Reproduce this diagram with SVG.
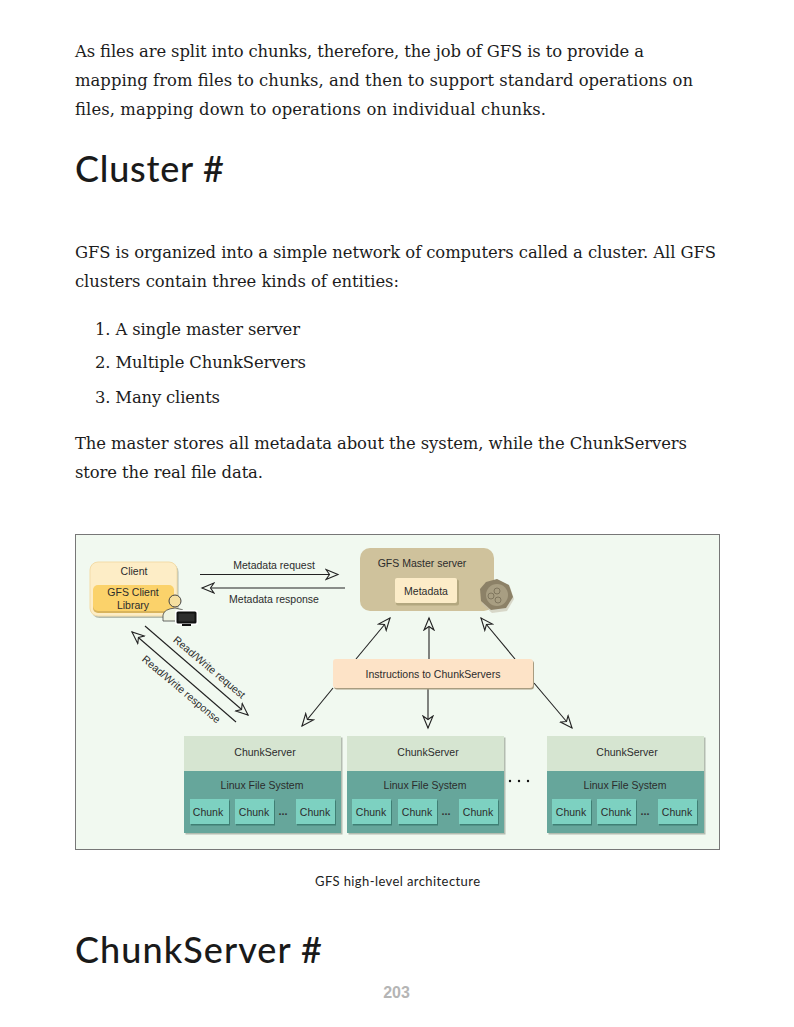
<svg xmlns="http://www.w3.org/2000/svg" width="794" height="1027" viewBox="0 0 794 1027">
<style>
.b{font:16.400px "DejaVu Serif",serif;fill:#1c1c1c}
.h{font:500 36px Lato,"Noto Sans",sans-serif;fill:#1a1a1a}
.c{font:13px Lato,"Noto Sans",sans-serif;fill:#222}
.t{font:10.500px "Liberation Sans",Arial,sans-serif;fill:#2c2c2c;text-anchor:middle}
.d{font:bold 11px "Liberation Sans",Arial,sans-serif;fill:#333;text-anchor:middle}
.ln{stroke:#222;stroke-width:1.1;fill:none;marker-end:url(#a)}
.sh{fill:#7f8a7c;opacity:.55}
.top{fill:#d6e5d1}.fs{fill:#66a69b}.ch{fill:#7dd1c1}
</style>
<defs>
<marker id="a" markerUnits="userSpaceOnUse" markerWidth="16" markerHeight="14" refX="13" refY="6" orient="auto" viewBox="0 0 16 12">
<path d="M13 6L1 1L4.500 6L1 11Z" fill="#f1f9f0" stroke="#222" stroke-width="1.100"/>
</marker>
<g id="cs">
<rect x="1.500" y="1.500" width="157" height="97" class="sh"/>
<rect width="157" height="35" class="top"/>
<rect y="35" width="157" height="62" class="fs"/>
</g>
<g id="k">
<rect x="1" y="1.500" width="39" height="25" fill="#3f7f74"/>
<rect width="39" height="25" class="ch"/>
</g>
</defs>
<rect width="794" height="1027" fill="#fff"/>
<g id="page-text">
<text class="b" x="75" y="56.700" textLength="569" lengthAdjust="spacing">As files are split into chunks, therefore, the job of GFS is to provide a</text>
<text class="b" x="75" y="85.700" textLength="618" lengthAdjust="spacing">mapping from files to chunks, and then to support standard operations on</text>
<text class="b" x="75" y="114.700" textLength="471" lengthAdjust="spacing">files, mapping down to operations on individual chunks.</text>
<text class="h" x="75" y="182" textLength="149" lengthAdjust="spacing">Cluster #</text>
<text class="b" x="75" y="257.700" textLength="641" lengthAdjust="spacing">GFS is organized into a simple network of computers called a cluster. All GFS</text>
<text class="b" x="75" y="286.700" textLength="324" lengthAdjust="spacing">clusters contain three kinds of entities:</text>
<text class="b" x="95" y="334.700" textLength="205" lengthAdjust="spacing">1. A single master server</text>
<text class="b" x="95" y="367.700" textLength="211" lengthAdjust="spacing">2. Multiple ChunkServers</text>
<text class="b" x="95" y="402.700" textLength="125" lengthAdjust="spacing">3. Many clients</text>
<text class="b" x="75" y="448.700" textLength="612" lengthAdjust="spacing">The master stores all metadata about the system, while the ChunkServers</text>
<text class="b" x="75" y="477.700" textLength="188" lengthAdjust="spacing">store the real file data.</text>
<text class="c" x="315" y="886" textLength="165" lengthAdjust="spacing">GFS high-level architecture</text>
<text class="h" x="75" y="963" textLength="247" lengthAdjust="spacing">ChunkServer #</text>
<text x="396.500" y="998" text-anchor="middle" style="font:bold 16px 'Liberation Sans',Arial,sans-serif;fill:#b5b5b5">203</text>
</g>
<rect id="frame" x="75.500" y="534.500" width="644" height="315" fill="#f1f9f0" stroke="#777"/>
<g id="connectors">
<path class="ln" d="M200 574.500H338"/>
<path class="ln" d="M345 588H202"/>
<path class="ln" d="M145 626L248 715" stroke-width="1"/>
<path class="ln" d="M236 722L132 632"/>
<path class="ln" d="M356 659L390 618"/>
<path class="ln" d="M429 659V618"/>
<path class="ln" d="M515 659L481 618"/>
<path class="ln" d="M333 688L302 726"/>
<path class="ln" d="M428 688V728"/>
<path class="ln" d="M534 683L572 728"/>
<text class="t" x="274" y="568.500">Metadata request</text>
<text class="t" x="274" y="602.500">Metadata response</text>
<text class="t" transform="translate(207 670) rotate(40)">Read/Write request</text>
<text class="t" transform="translate(179 692) rotate(40)">Read/Write response</text>
</g>
<g id="client">
<rect x="91.500" y="564" width="87" height="54" rx="8" class="sh"/>
<rect x="90" y="562" width="87" height="54" rx="8" fill="#fdedc6" stroke="#f3dca8"/>
<text class="t" x="134" y="575">Client</text>
<rect x="93" y="587" width="81" height="26" fill="#d9b45c" rx="5"/>
<rect x="93" y="585" width="81" height="26" rx="5" fill="#fbd26a"/>
<text class="t" x="133" y="595.500">GFS Client</text>
<text class="t" x="133" y="608.500">Library</text>
</g>
<g id="user-icon">
<circle cx="175" cy="601" r="6" fill="#f5dfa0" stroke="#444"/>
<path d="M163 621V615Q164 609 175 608Q183 609 186 612V621Z" fill="#eef3e2" stroke="#444" stroke-width=".8"/>
<rect x="175" y="610" width="23" height="15" rx="2" fill="#fff"/>
<rect x="176.500" y="611.500" width="20" height="12" rx="1.500" fill="#111"/>
<rect x="178.500" y="613.500" width="16" height="8" fill="#2e2e2e"/>
<rect x="182" y="624" width="9" height="2" fill="#111"/>
</g>
<g id="master">
<rect x="360" y="548" width="134" height="63" rx="10" fill="#cfc29c"/>
<text class="t" x="422" y="567">GFS Master server</text>
<rect x="396" y="579.500" width="63" height="26" rx="2" fill="#b3a77f"/>
<rect x="395" y="578" width="62" height="25" rx="2" fill="#fcecc8"/>
<text class="t" x="426" y="595">Metadata</text>
<path d="M498 581L510 587L514 599L507 611L492 613L482 604L481 592L487 584Z" fill="#c6c0ad" opacity=".6"/>
<path d="M497 579L509 585L513 597L506 608L491 610L481 601L480 589L486 582Z" fill="#8c8167"/>
<circle cx="497" cy="595" r="11" fill="#a89e82"/>
<g fill="none" stroke="#6f664f" stroke-width=".7"><circle cx="491" cy="596" r="3"/><circle cx="497" cy="591" r="3"/><circle cx="498" cy="600" r="3"/></g>
</g>
<g id="instructions">
<rect x="334" y="660.500" width="200" height="29" rx="3" fill="#a89c80"/>
<rect x="333" y="659" width="200" height="29" rx="3" fill="#fde3c7"/>
<text class="t" x="433" y="678">Instructions to ChunkServers</text>
</g>
<g id="chunkserver-1">
<use href="#cs" x="184" y="736"/>
<text class="t" x="265" y="756">ChunkServer</text>
<text class="t" x="262" y="789">Linux File System</text>
<use href="#k" x="190" y="799"/><text class="t" x="208" y="816">Chunk</text>
<use href="#k" x="235" y="799"/><text class="t" x="254" y="816">Chunk</text>
<text class="d" x="283" y="815">...</text>
<use href="#k" x="296" y="799"/><text class="t" x="315" y="816">Chunk</text>
</g>
<g id="chunkserver-2">
<use href="#cs" x="347" y="736"/>
<text class="t" x="428" y="756">ChunkServer</text>
<text class="t" x="425" y="789">Linux File System</text>
<use href="#k" x="352" y="799"/><text class="t" x="371" y="816">Chunk</text>
<use href="#k" x="398" y="799"/><text class="t" x="417" y="816">Chunk</text>
<text class="d" x="446" y="815">...</text>
<use href="#k" x="459" y="799"/><text class="t" x="478" y="816">Chunk</text>
</g>
<g id="chunkserver-3">
<use href="#cs" x="547" y="736"/>
<text class="t" x="627" y="756">ChunkServer</text>
<text class="t" x="625" y="789">Linux File System</text>
<use href="#k" x="552" y="799"/><text class="t" x="571" y="816">Chunk</text>
<use href="#k" x="597" y="799"/><text class="t" x="616" y="816">Chunk</text>
<text class="d" x="645" y="815">...</text>
<use href="#k" x="658" y="799"/><text class="t" x="677" y="816">Chunk</text>
</g>
<g id="ellipsis" fill="#111"><circle cx="510" cy="781" r="1.200"/><circle cx="519" cy="781" r="1.200"/><circle cx="528" cy="781" r="1.200"/></g>
</svg>
